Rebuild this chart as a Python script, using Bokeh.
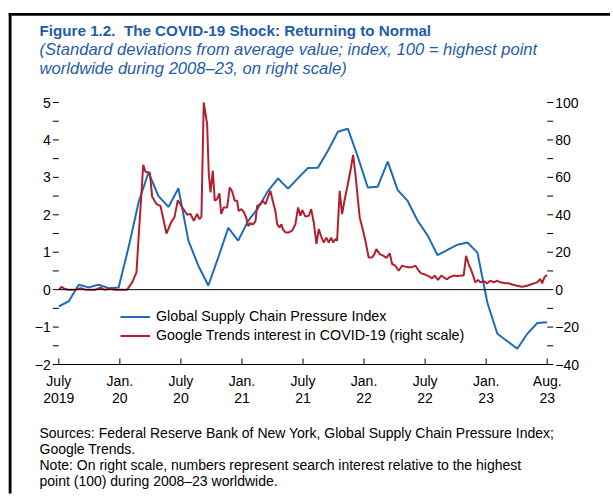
from bokeh.plotting import figure
from bokeh.models import Range1d, Label, Legend, LegendItem
from bokeh.core.properties import value
from bokeh.embed import file_html
from bokeh.resources import INLINE

# ---------------- data ----------------
# month index: 0 = July 2019 ... 49 = Aug 2023
gscpi_month = list(range(50))
gscpi_value = [-0.45, -0.31, 0.13, 0.06, 0.13, 0.04, 0.06, 1.13, 2.33, 3.13,
               2.50, 2.21, 2.71, 1.31, 0.64, 0.11, 0.86, 1.65, 1.31, 1.84,
               2.18, 2.64, 2.97, 2.70, 2.98, 3.25, 3.26, 3.71, 4.22, 4.30,
               3.55, 2.73, 2.75, 3.42, 2.66, 2.37, 1.84, 1.45, 0.92, 1.06,
               1.20, 1.26, 0.99, -0.35, -1.18, -1.38, -1.58, -1.18, -0.89, -0.87]

trends_month = [0.00, 0.27, 0.62, 0.97, 1.67, 2.18, 2.68, 3.68, 4.18, 4.58,
                5.19, 5.69, 6.86, 7.36, 7.79, 8.47, 8.70, 9.13, 9.37, 9.80,
                10.20, 10.80, 11.27, 11.60, 11.94, 12.38, 12.88, 13.21, 13.54, 13.88,
                14.11, 14.31, 14.54, 14.88, 15.05, 15.22, 15.45, 15.65, 15.89, 16.12,
                16.29, 16.55, 16.89, 17.15, 17.39, 17.65, 17.89, 18.05, 18.32, 18.56,
                18.80, 19.00, 19.23, 19.46, 19.73, 19.90, 20.23, 20.46, 20.73, 21.00,
                21.23, 21.46, 21.73, 21.91, 22.14, 22.34, 22.47, 22.74, 23.07, 23.41,
                23.74, 24.01, 24.24, 24.44, 24.74, 25.08, 25.32, 25.58, 25.85, 26.08,
                26.32, 26.58, 26.85, 27.08, 27.32, 27.52, 27.75, 27.92, 28.18, 28.42,
                28.66, 28.93, 29.26, 29.53, 29.76, 29.99, 30.19, 30.53, 30.76, 31.09,
                31.43, 31.66, 31.86, 32.20, 32.54, 32.87, 33.20, 33.44, 33.77, 34.10,
                34.44, 34.77, 35.10, 35.45, 35.78, 36.11, 36.35, 36.68, 37.11, 37.45,
                37.71, 38.05, 38.38, 38.62, 38.96, 39.19, 39.62, 39.96, 40.39, 40.62,
                40.86, 41.12, 41.46, 41.79, 42.07, 42.30, 42.63, 42.97, 43.30, 43.63,
                43.97, 44.30, 44.80, 45.14, 45.48, 45.98, 46.48, 46.98, 47.48, 47.98,
                48.31, 48.49, 48.75, 48.99]
trends_value = [0, 1.5, 0.3, 0, 0, 0.8, 0, 0, 1.0, 0,
                0.5, 0, 0, 3.9, 9.2, 66.7, 63, 62.5, 49.6, 45.7,
                44.8, 30, 36, 38.6, 47.8, 44, 40, 40.5, 36.8, 40.4,
                37.7, 39, 100, 88.4, 61.7, 52, 63.5, 47.5, 48.5, 51.4,
                40.4, 43.9, 43.9, 54.6, 52.5, 47.5, 47.5, 42, 43, 41.5,
                38.6, 34, 35.5, 34.7, 36.5, 44.8, 45.7, 47.5, 45.7, 49.6,
                52.8, 47.5, 42, 35, 33.2, 35, 32.4, 30.6, 30.6, 31.5,
                35, 43.9, 39.5, 42.5, 39, 39.5, 43, 35.9, 24.4, 32.4,
                28.5, 25.2, 27.8, 25.2, 27.8, 25.2, 27, 26.1, 52.8, 40.4,
                47.5, 54.6, 63.5, 72, 61.7, 49.2, 38.6, 31.5, 26.1, 17.2,
                17.2, 19, 21.7, 19, 18.2, 17, 19.4, 13.7, 12.8, 10.1,
                12.8, 12.3, 12, 12, 12.8, 10.1, 8.7, 8.2, 7.2, 6,
                7.5, 5.2, 7.5, 6.6, 5.5, 6.6, 7.5, 7.3, 7.5, 7.5,
                18.1, 13.7, 9.2, 3.9, 5.2, 3.9, 4.5, 3.4, 4.8, 3.9,
                4.8, 3.9, 3.4, 3.4, 2.7, 2.1, 1.6, 2.1, 3, 3.9,
                5.7, 3.4, 6.9, 7.8]

x_tick_pos = [0, 6.125, 12.25, 18.375, 24.5, 30.625, 36.75, 42.875, 49]
x_tick_top = ["July", "Jan.", "July", "Jan.", "July", "Jan.", "July", "Jan.", "Aug."]
x_tick_bottom = ["2019", "20", "20", "21", "21", "22", "22", "23", "23"]
left_ticks = [-2, -1, 0, 1, 2, 3, 4, 5]
left_minor = [-1.5, -0.5, 0.5, 1.5, 2.5, 3.5, 4.5]
right_ticks = [-40, -20, 0, 20, 40, 60, 80, 100]
right_minor = [-30, -10, 10, 30, 50, 70, 90]

title_text = "Figure 1.2.\u00a0 The COVID-19 Shock: Returning to Normal"
subtitle_lines = ["(Standard deviations from average value; index, 100 = highest point",
                  "worldwide during 2008\u201323, on right scale)"]
footer_lines = ["Sources: Federal Reserve Bank of New York, Global Supply Chain Pressure Index;",
                "Google Trends.",
                "Note: On right scale, numbers represent search interest relative to the highest",
                "point (100) during 2008\u201323 worldwide."]
legend_labels = ["Global Supply Chain Pressure Index",
                 "Google Trends interest in COVID-19 (right scale)"]

# ---------------- geometry (pixels) ----------------
BLUE = "#1f6bb5"
RED = "#b2202f"
TITLE_BLUE = "#1f5ca8"
FONT = "Liberation Sans"
W, H = 611, 494
PLOT_L, PLOT_R = 58.3, 546.7      # pixel x of first / last x tick
PLOT_T, PLOT_B = 102.0, 364.0     # pixel y of top / bottom left tick
x_first, x_last = x_tick_pos[0], x_tick_pos[-1]
y_low, y_high = left_ticks[0], left_ticks[-1]
PX_X = (PLOT_R - PLOT_L) / (x_last - x_first)
PX_Y = (PLOT_B - PLOT_T) / (y_high - y_low)
RIGHT_FACTOR = right_ticks[-1] / left_ticks[-1]


def mx(px):
    return x_first + (px - PLOT_L) / PX_X


def vy(py):
    return y_low + (PLOT_B - py) / PX_Y


p = figure(width=W, height=H, output_backend="svg", toolbar_location=None,
           x_range=Range1d(mx(0), mx(W)), y_range=Range1d(vy(H), vy(0)),
           x_axis_type=None, y_axis_type=None, min_border=0, title=None)
p.outline_line_color = None
p.background_fill_color = "white"
p.border_fill_color = "white"
p.extra_y_ranges = {"right": Range1d(vy(H) * RIGHT_FACTOR, vy(0) * RIGHT_FACTOR)}

# outer box (left and top edges)
p.quad(left=[mx(8.2)], right=[mx(11)], top=[vy(12.6)], bottom=[vy(H - 1)],
       fill_color="black", line_color=None)
p.quad(left=[mx(8.2)], right=[mx(W - 1.5)], top=[vy(12.6)], bottom=[vy(15.2)],
       fill_color="black", line_color=None)

# series
blue_r = p.line(gscpi_month, gscpi_value, line_color=BLUE, line_width=2)
red_r = p.line(trends_month, trends_value, line_color=RED, line_width=2,
               y_range_name="right")

# zero line and bottom axis line
p.segment(x0=[x_first, x_first], x1=[x_last, x_last], y0=[0, y_low], y1=[0, y_low],
          line_color="black", line_width=1)

TICK = 6
dx_tick = TICK / PX_X
dy_tick = TICK / PX_Y
# bottom ticks (pointing up)
p.segment(x0=x_tick_pos, x1=x_tick_pos, y0=[y_low] * len(x_tick_pos),
          y1=[y_low + dy_tick] * len(x_tick_pos), line_color="black", line_width=1)
# left ticks (outside)
lt = left_ticks + left_minor
p.segment(x0=[x_first - dx_tick] * len(lt), x1=[x_first] * len(lt), y0=lt, y1=lt,
          line_color="black", line_width=1)
# right ticks (outside)
rt = right_ticks + right_minor
p.segment(x0=[x_last] * len(rt), x1=[x_last + dx_tick] * len(rt), y0=rt, y1=rt,
          line_color="black", line_width=1, y_range_name="right")


def sign(t):
    return "\u2212" + str(-t) if t < 0 else str(t)


tick_font = dict(text_font=value(FONT), text_font_size=value("14px"),
                 text_color="black", text_baseline="middle")
p.text(x=[x_first - (TICK + 2) / PX_X] * len(left_ticks), y=left_ticks,
       text=[sign(t) for t in left_ticks], text_align="right", **tick_font)
p.text(x=[x_last + (TICK + 2) / PX_X] * len(right_ticks), y=right_ticks,
       text=[sign(t) for t in right_ticks], text_align="left",
       y_range_name="right", **tick_font)
p.text(x=x_tick_pos, y=[y_low - 16.5 / PX_Y] * len(x_tick_pos), text=x_tick_top,
       text_align="center", **tick_font)
p.text(x=x_tick_pos, y=[y_low - 33.5 / PX_Y] * len(x_tick_pos), text=x_tick_bottom,
       text_align="center", **tick_font)

# legend
legend = Legend(items=[LegendItem(label=legend_labels[0], renderers=[blue_r]),
                       LegendItem(label=legend_labels[1], renderers=[red_r])],
                location=(120, H - 344.5), orientation="vertical",
                background_fill_alpha=0, border_line_color=None,
                padding=0, spacing=0, margin=0,
                glyph_width=30, glyph_height=19, label_height=19,
                label_standoff=6,
                label_text_font=FONT, label_text_font_size="14.3px",
                label_text_color="black")
p.add_layout(legend, "center")


def put(text, px, py, size, color="black", style="normal"):
    p.add_layout(Label(x=mx(px), y=vy(py), text=text, text_font=FONT,
                       text_font_size=size, text_color=color,
                       text_font_style=style, text_baseline="middle",
                       text_align="left"))


put(title_text, 39, 30, "15.2px", TITLE_BLUE, "bold")
put(subtitle_lines[0], 39, 49, "16.6px", TITLE_BLUE, "italic")
put(subtitle_lines[1], 39, 67.5, "16.6px", TITLE_BLUE, "italic")
for i, line in enumerate(footer_lines):
    put(line, 39, 432 + 16.3 * i, "14px")

open("out.html", "w").write(file_html(p, INLINE))
